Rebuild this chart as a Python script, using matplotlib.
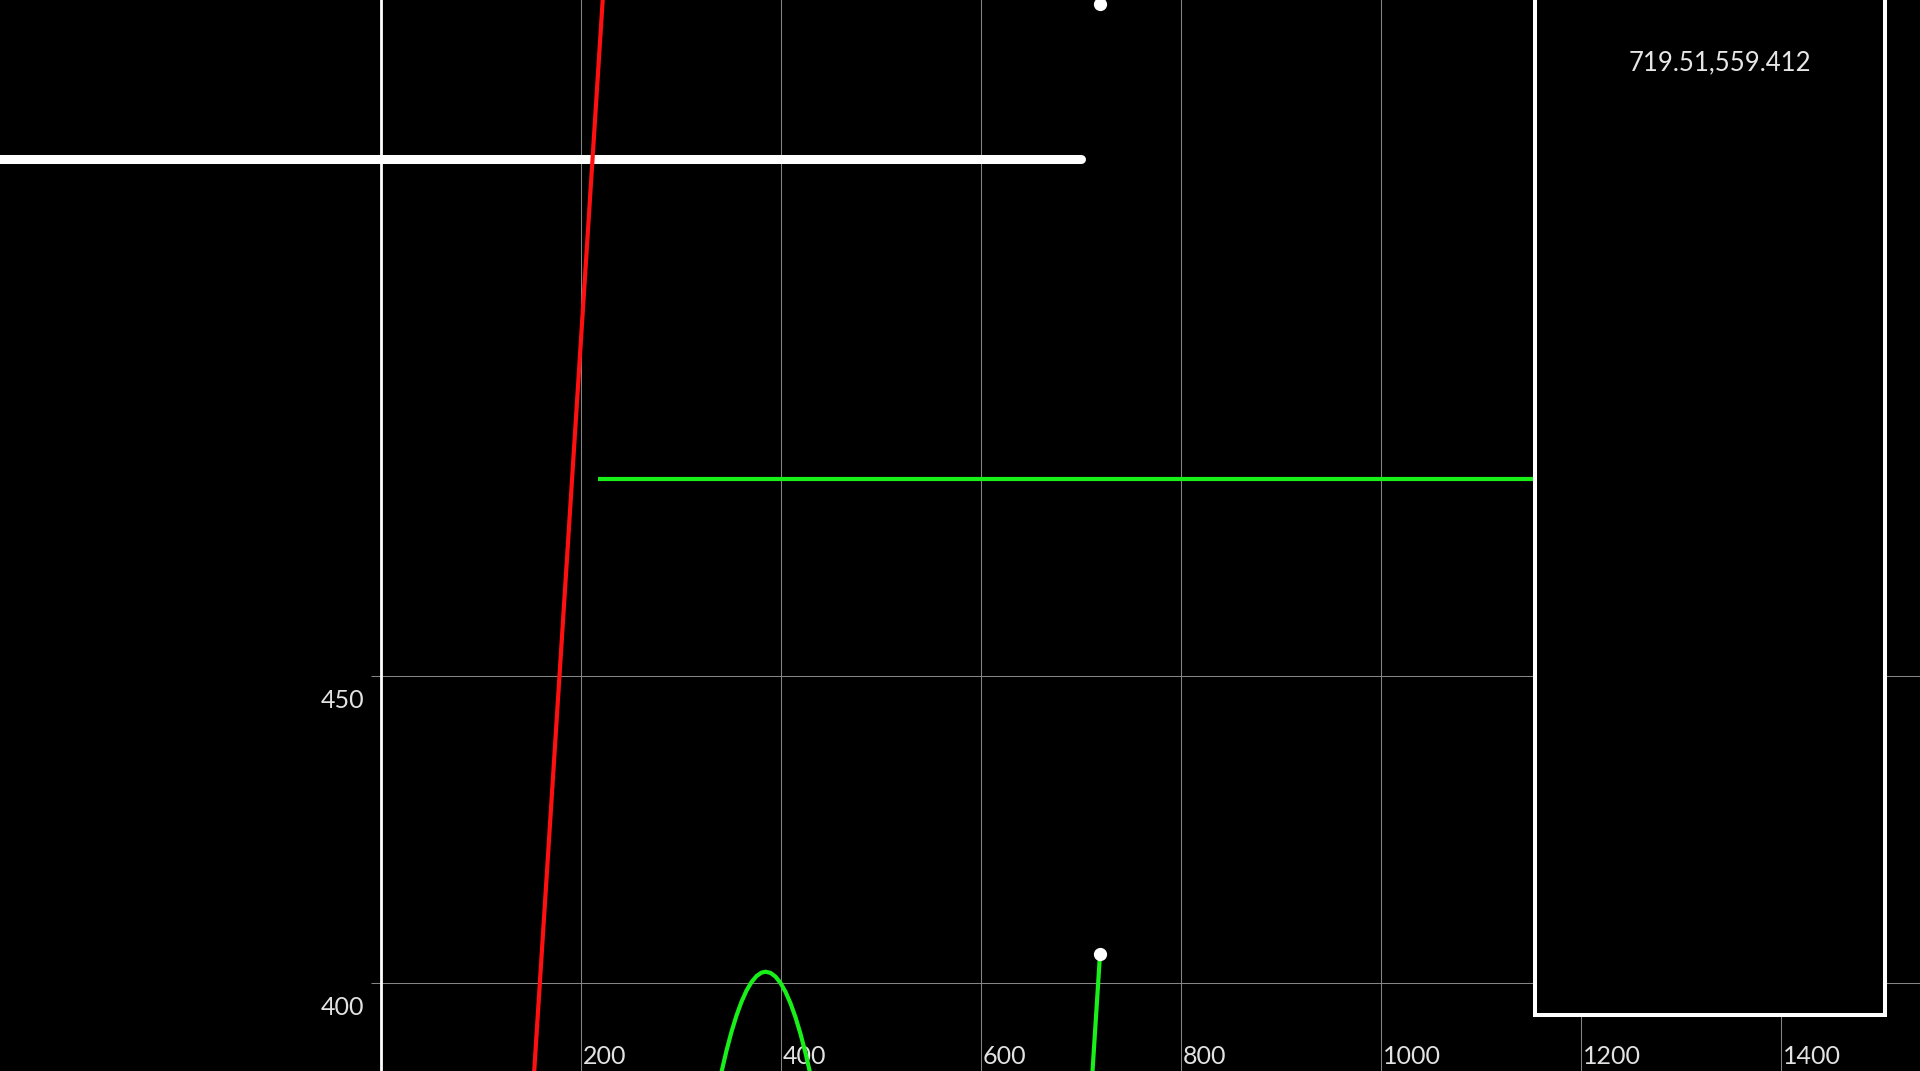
import matplotlib
matplotlib.use("Agg")
import matplotlib.pyplot as plt
from matplotlib.patches import Rectangle

plt.rcParams['font.family'] = ['Lato', 'DejaVu Sans']

# ---- data ----
x_ticks = [200, 400, 600, 800, 1000, 1200, 1400]
y_ticks = [400, 450]

white_line_x = [-400, 700]
white_line_y = [534.2, 534.2]

red_x = [151.1, 224.9]
red_y = [379.0, 567.0]

green_flat_x = [217.8, 1200]
green_flat_y = [482.1, 482.1]

green_arc_x = [336, 341, 346, 351, 356, 361, 366, 371, 376, 381, 385,
               390, 395, 400, 405, 410, 415, 420, 425, 430, 435]
green_arc_y = [381.60, 385.51, 388.99, 392.06, 394.71, 396.94, 398.76, 400.15,
               401.13, 401.69, 401.84, 401.65, 401.04, 400.01, 398.56, 396.70,
               394.42, 391.72, 388.60, 385.06, 381.11]

green_tail_x = [709.4, 719.51]
green_tail_y = [379.0, 404.7]

dots_x = [719.51, 719.51]
dots_y = [404.7, 559.412]

box_x = [1154.5, 1504.5]
box_y = [394.8, 575.0]

label_text = "719.51,559.412"
label_pos = (1339.5, 548.7)

# ---- figure ----
W, H, DPI = 1920, 1071, 100
fig = plt.figure(figsize=(W / DPI, H / DPI), dpi=DPI, facecolor='black')
ax = fig.add_axes([0, 0, 1, 1])
ax.set_facecolor('black')
ax.set_xlim(-380.5, 1539.5)
ax.set_ylim(385.67, 560.1)
for s in ax.spines.values():
    s.set_visible(False)
ax.set_xticks([])
ax.set_yticks([])

grid_c = '#858585'
tick_c = '#e2e2e2'
for xv in x_ticks:
    ax.axvline(xv, color=grid_c, lw=0.75, zorder=1)
    ax.annotate(str(xv), xy=(xv, 0), xycoords=('data', 'axes fraction'),
                xytext=(2.5, 7), textcoords='offset pixels',
                ha='left', va='baseline', color=tick_c, fontsize=18, zorder=2)
for yv in y_ticks:
    ax.hlines(yv, -10, 1539.5, color=grid_c, lw=0.75, zorder=1)
    ax.annotate(str(yv), xy=(0, yv), xycoords='data',
                xytext=(-16, -31.5), textcoords='offset pixels',
                ha='right', va='baseline', color=tick_c, fontsize=18, zorder=2)

ax.axvline(0, color='white', lw=2.0, zorder=2)

ax.plot(white_line_x, white_line_y, color='white', lw=6.5,
        solid_capstyle='round', zorder=3)
ax.plot(red_x, red_y, color='#ff1010', lw=3.0, zorder=3)
ax.plot(green_flat_x, green_flat_y, color='#19f019', lw=3.0,
        solid_capstyle='butt', zorder=3)
ax.plot(green_arc_x, green_arc_y, color='#19f019', lw=3.0, zorder=3)
ax.plot(green_tail_x, green_tail_y, color='#19f019', lw=3.0, zorder=3)
ax.plot(dots_x, dots_y, linestyle='none', marker='o', markersize=8.5,
        markerfacecolor='white', markeredgecolor='white', zorder=4)

ax.add_patch(Rectangle((box_x[0], box_y[0]), box_x[1] - box_x[0],
                       box_y[1] - box_y[0], facecolor='black',
                       edgecolor='white', lw=2.9, zorder=5))
ax.text(label_pos[0], label_pos[1], label_text, ha='center', va='baseline',
        color='#e6e6e6', fontsize=18.5, zorder=6)

fig.savefig('out.png', dpi=DPI, facecolor='black')
